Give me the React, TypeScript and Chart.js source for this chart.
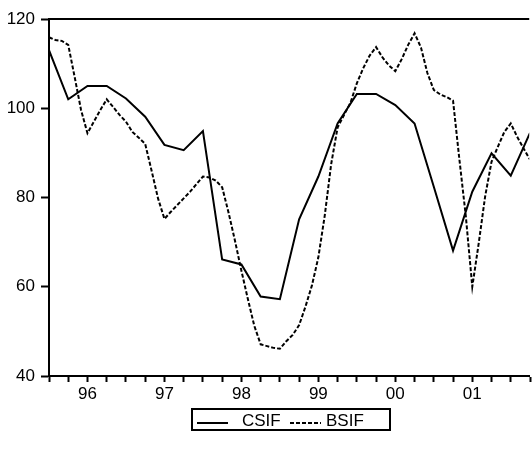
import { useEffect, useRef } from "react";
import { Chart, registerables } from "chart.js";

Chart.register(...registerables);

// CSIF: quarterly, first observation 1995Q3
const csifStart = 1995.5;
const csifValues = [
  113, 102, 105, 105, 102.2, 98.1, 91.8, 90.6, 94.9, 66.1, 65, 57.8, 57.2,
  75.1, 84.7, 96.6, 103.2, 103.2, 100.7, 96.6, 82.4, 68.1, 81.3, 89.9, 84.9,
  94.5,
];

// BSIF: monthly, first observation 1995M07
const bsifStart = 1995.5;
const bsifValues = [
  115.9, 115.3, 115.1, 114.2, 107, 99.6, 94.4, 97, 99.6, 102, 100.3, 98.5,
  97, 94.7, 93.4, 92, 86, 79.8, 75.2, 76.8, 78.3, 79.8, 81.3, 83,
  84.7, 84.5, 83.8, 82.3, 76.6, 70.3, 63.6, 57.3, 51.3, 47.1, 46.7, 46.3,
  46.1, 47.8, 49.2, 51.4, 55.6, 60.3, 66.6, 76, 87.5, 95.7, 98.5, 101.2,
  105.6, 109, 111.8, 113.7, 111.4, 109.6, 108.3, 111, 114.2, 116.8, 113.6, 107.9,
  104.1, 103.1, 102.5, 101.7, 88.4, 75.7, 60, 69.7, 80.2, 88, 91.4, 94.7,
  96.6, 93.6, 91, 88.5,
];

const yearTicks = [1996, 1997, 1998, 1999, 2000, 2001];
const yearLabels = ["96", "97", "98", "99", "00", "01"];
const yTicks = [40, 60, 80, 100, 120];
const seriesNames = ["CSIF", "BSIF"];

const FONT_FAMILY = "'Liberation Sans', Arial, Helvetica, sans-serif";
const INK = "#000000";
const BSIF_DASH = [4, 2];

const topBorder = {
  id: "topBorder",
  afterDraw(chart: any) {
    const { ctx, chartArea } = chart;
    ctx.save();
    ctx.strokeStyle = INK;
    ctx.lineWidth = 2;
    ctx.beginPath();
    ctx.moveTo(chartArea.left, chartArea.top);
    ctx.lineTo(chartArea.right, chartArea.top);
    ctx.stroke();
    ctx.restore();
  },
};

const boxedLegend = {
  id: "boxedLegend",
  afterDraw(chart: any) {
    const { ctx } = chart;
    const left = 192;
    const top = 409;
    const width = 198;
    const height = 21;
    const sampleY = 423;
    ctx.save();
    ctx.strokeStyle = INK;
    ctx.lineWidth = 2;
    ctx.strokeRect(left, top, width, height);

    ctx.font = `17px ${FONT_FAMILY}`;
    ctx.fillStyle = INK;
    ctx.textBaseline = "alphabetic";

    // CSIF entry: solid line
    ctx.setLineDash([]);
    ctx.beginPath();
    ctx.moveTo(197, sampleY);
    ctx.lineTo(228, sampleY);
    ctx.stroke();
    ctx.fillText(seriesNames[0], 242, 426);

    // BSIF entry: dashed line
    ctx.setLineDash(BSIF_DASH);
    ctx.beginPath();
    ctx.moveTo(290, sampleY);
    ctx.lineTo(321, sampleY);
    ctx.stroke();
    ctx.setLineDash([]);
    ctx.fillText(seriesNames[1], 326, 426);
    ctx.restore();
  },
};

export default function App() {
  const canvasRef = useRef<HTMLCanvasElement | null>(null);

  useEffect(() => {
    const canvas = canvasRef.current;
    if (!canvas) return;

    const quarterTicks: number[] = [];
    for (let q = 1995.5; q <= 2001.75; q += 0.25) quarterTicks.push(q);

    const chart = new Chart(canvas, {
      type: "line",
      data: {
        datasets: [
          {
            label: seriesNames[0],
            data: csifValues.map((v, i) => ({ x: csifStart + i / 4, y: v })),
            borderColor: INK,
            borderWidth: 2,
            pointRadius: 0,
            tension: 0,
            fill: false,
          },
          {
            label: seriesNames[1],
            data: bsifValues.map((v, i) => ({ x: bsifStart + i / 12, y: v })),
            borderColor: INK,
            borderWidth: 2,
            borderDash: BSIF_DASH,
            pointRadius: 0,
            tension: 0,
            fill: false,
          },
        ],
      },
      options: {
        animation: false,
        responsive: false,
        devicePixelRatio: 1,
        layout: { padding: { top: 19, left: 0, right: 0, bottom: 0 }, autoPadding: false },
        plugins: {
          legend: { display: false },
          tooltip: { enabled: false },
        },
        scales: {
          x: {
            type: "linear",
            min: 1995.5,
            max: 2001.74,
            afterBuildTicks: (scale: any) => {
              scale.ticks = quarterTicks.map((v) => ({ value: v }));
            },
            afterFit: (scale: any) => {
              scale.height = 81;
            },
            ticks: {
              autoSkip: false,
              maxRotation: 0,
              minRotation: 0,
              padding: 2,
              color: INK,
              font: { family: FONT_FAMILY, size: 17 },
              callback: (value: any) => {
                const i = yearTicks.indexOf(Number(value));
                return i >= 0 ? yearLabels[i] : "";
              },
            },
            grid: {
              drawOnChartArea: false,
              drawTicks: true,
              tickLength: 6,
              tickWidth: 2,
              color: INK,
            },
            border: { display: true, width: 2, color: INK },
          },
          y: {
            type: "linear",
            min: 40,
            max: 120,
            afterBuildTicks: (scale: any) => {
              scale.ticks = yTicks.map((v) => ({ value: v }));
            },
            afterFit: (scale: any) => {
              scale.width = 49;
            },
            ticks: {
              padding: 6,
              color: INK,
              font: { family: FONT_FAMILY, size: 17 },
            },
            grid: {
              drawOnChartArea: false,
              drawTicks: true,
              tickLength: 8,
              tickWidth: 2,
              color: INK,
            },
            border: { display: true, width: 2, color: INK },
          },
        },
      },
      plugins: [topBorder, boxedLegend],
    });

    return () => chart.destroy();
  }, []);

  return (
    <div style={{ position: "fixed", left: 0, top: 0, width: 532, height: 457, background: "#ffffff" }}>
      <canvas ref={canvasRef} width={532} height={457} style={{ display: "block" }} />
    </div>
  );
}
